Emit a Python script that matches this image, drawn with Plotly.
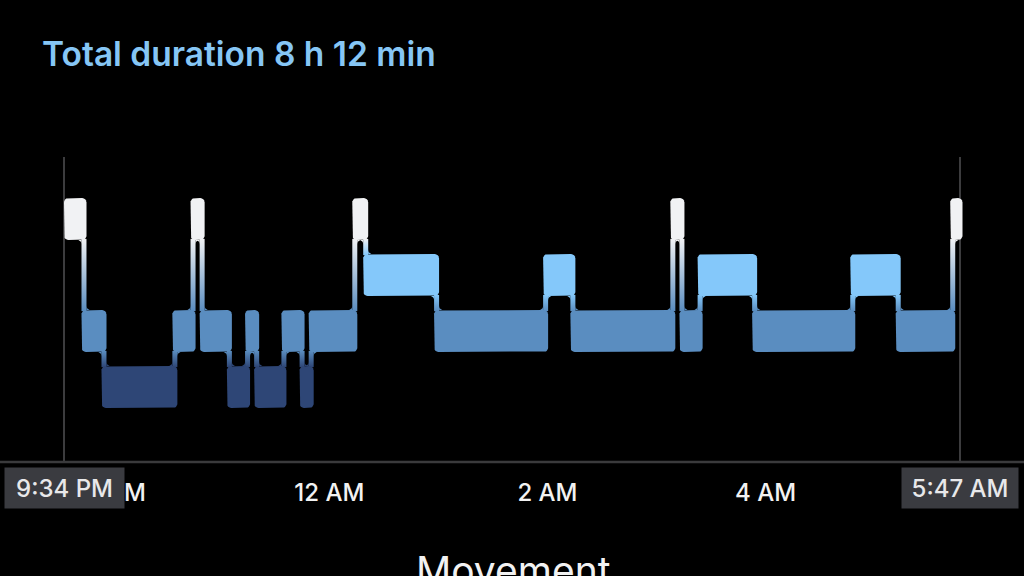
import math
import plotly.graph_objects as go

# ---------------- data ----------------
title_text = "Total duration 8 h 12 min"
footer_text = "Movement"
start_label = "9:34 PM"
end_label = "5:47 AM"
session_start = "21:34"
session_end = "05:47"

seg_starts = ["21:34", "21:45", "21:56", "22:35", "22:45", "22:50", "23:05", "23:15",
              "23:20", "23:35", "23:45", "23:50", "00:14", "00:20", "00:59", "01:59",
              "02:14", "03:09", "03:14", "03:24", "03:54", "04:48", "05:13", "05:43"]
seg_stages = ["Awake", "Core", "Deep", "Core", "Awake", "Core", "Deep", "Core",
              "Deep", "Core", "Deep", "Core", "Awake", "REM", "Core", "REM",
              "Core", "Awake", "Core", "REM", "Core", "REM", "Core", "Awake"]

tick_times = ["22:00", "00:00", "02:00", "04:00"]
tick_labels = ["10 PM", "12 AM", "2 AM", "4 AM"]

stage_levels = {"Deep": 0, "Core": 1, "REM": 2, "Awake": 3}
stage_colors = {"Awake": "#F1F2F4", "REM": "#84C8FA", "Core": "#5A8DC0", "Deep": "#2E4676"}

# ---------------- layout constants ----------------
W, H = 1024, 576
TOP, BOTTOM = 157, 462
PLOT_H = BOTTOM - TOP
SIDE = 64          # px from figure edge to session start/end lines
PX_PER_UNIT = 56   # px between stage rows
BAND_PX = 42
RADIUS_PX = 4.5
CONN_PX = 5
FILLET_PX = 4


def to_min(s):
    h, m = map(int, s.split(":"))
    h0, m0 = map(int, session_start.split(":"))
    v = h * 60 + m
    if v < 12 * 60:
        v += 1440
    return v - (h0 * 60 + m0)


T = to_min(session_end)
ppm = (W - 2 * SIDE) / T
x_range = [-SIDE / ppm, T + SIDE / ppm]
deep_px = 387
y_min = -(BOTTOM - deep_px) / PX_PER_UNIT
y_range = [y_min, y_min + PLOT_H / PX_PER_UNIT]
half = BAND_PX / 2 / PX_PER_UNIT
cw = CONN_PX / 2 / ppm
fx, fy = FILLET_PX / ppm, FILLET_PX / PX_PER_UNIT


def rounded_rect(x0, x1, y0, y1, r_px):
    rx, ry = r_px / ppm, r_px / PX_PER_UNIT
    rx = min(rx, (x1 - x0) / 2)
    xs, ys = [], []
    corners = [(x1 - rx, y1 - ry, 0, 90), (x0 + rx, y1 - ry, 90, 180),
               (x0 + rx, y0 + ry, 180, 270), (x1 - rx, y0 + ry, 270, 360)]
    for cx, cy, a0, a1 in corners:
        for k in range(7):
            a = math.radians(a0 + (a1 - a0) * k / 6)
            xs.append(cx + rx * math.cos(a))
            ys.append(cy + ry * math.sin(a))
    xs.append(xs[0]); ys.append(ys[0])
    return xs, ys


def fillet(xc, yc, sx, sy):
    """concave fillet in the corner (xc, yc); sx, sy = direction into free space"""
    xs, ys = [xc], [yc]
    cx, cy = xc + sx * fx, yc + sy * fy
    for k in range(8):
        a = math.radians(90 * k / 7)
        xs.append(cx - sx * fx * math.cos(a))
        ys.append(cy - sy * fy * math.sin(a))
    xs.append(xc); ys.append(yc)
    return xs, ys


starts = [to_min(s) for s in seg_starts]
ends = starts[1:] + [T]

fig = go.Figure()

# connectors (with fillets where they meet the bands)
for i in range(1, len(seg_stages)):
    a, b = seg_stages[i - 1], seg_stages[i]
    la, lb = stage_levels[a], stage_levels[b]
    lo, hi = (a, b) if la < lb else (b, a)
    t = starts[i]
    y0 = stage_levels[lo] + half - 0.02
    y1 = stage_levels[hi] - half + 0.02
    fig.add_trace(go.Scatter(
        x=[t - cw, t + cw, t + cw, t - cw, t - cw],
        y=[y0, y0, y1, y1, y0],
        mode="lines", line=dict(width=0), fill="toself",
        fillgradient=dict(type="vertical",
                          colorscale=[[0, stage_colors[lo]], [1, stage_colors[hi]]]),
        hoverinfo="skip", showlegend=False))
    if lb < la:
        xs, ys = fillet(t + cw, lb + half, 1, 1)
    else:
        xs, ys = fillet(t + cw, lb - half, 1, -1)
    fig.add_trace(go.Scatter(
        x=xs, y=ys, mode="lines", line=dict(width=0), fill="toself",
        fillcolor=stage_colors[b], hoverinfo="skip", showlegend=False))
    if la < lb:
        xs, ys = fillet(t - cw, la + half, -1, 1)
    else:
        xs, ys = fillet(t - cw, la - half, -1, -1)
    fig.add_trace(go.Scatter(
        x=xs, y=ys, mode="lines", line=dict(width=0), fill="toself",
        fillcolor=stage_colors[a], hoverinfo="skip", showlegend=False))

# blocks
for i, st in enumerate(seg_stages):
    lvl = stage_levels[st]
    x0 = starts[i] - (cw if i > 0 else 0)
    x1 = ends[i] + cw
    xs, ys = rounded_rect(x0, x1, lvl - half, lvl + half, RADIUS_PX)
    fig.add_trace(go.Scatter(
        x=xs, y=ys, mode="lines", line=dict(width=0), fill="toself",
        fillcolor=stage_colors[st], hoverinfo="skip", showlegend=False))

# session lines and baseline
for t in (0, T):
    fig.add_shape(type="line", xref="x", yref="paper", x0=t, x1=t, y0=0, y1=1,
                  line=dict(color="#3C3C3E", width=2), layer="below")
fig.add_shape(type="line", xref="paper", yref="paper", x0=0, x1=1, y0=0, y1=0,
              line=dict(color="#3A3A3C", width=2.5), layer="below")

# start / end labels
for t, txt, wbox in ((0, start_label, 119), (T, end_label, 116)):
    fig.add_annotation(x=t, xref="x", y=0, yref="paper", yanchor="top", yshift=-5,
                       text=txt, showarrow=False, width=wbox, height=40,
                       bgcolor="#3A3B40", borderpad=0,
                       font=dict(family="Inter", size=24, color="#E8E8EA", weight=500))

# title
fig.add_annotation(x=40 / W, xref="paper", xanchor="left",
                   y=(BOTTOM - 54) / PLOT_H, yref="paper", yanchor="middle",
                   text=title_text, showarrow=False,
                   font=dict(family="Inter", size=33.5, color="#86C6F5", weight=600))

# footer
fig.add_annotation(x=513 / W, xref="paper", xanchor="center",
                   y=-(545 - BOTTOM) / PLOT_H, yref="paper", yanchor="top",
                   text=footer_text, showarrow=False,
                   font=dict(family="Inter", size=39, color="#F2F2F2"))

fig.update_layout(
    width=W, height=H,
    margin=dict(l=0, r=0, t=TOP, b=H - BOTTOM, pad=0),
    paper_bgcolor="black", plot_bgcolor="black",
    showlegend=False,
    xaxis=dict(range=x_range, showgrid=False, zeroline=False, showline=False,
               tickmode="array", tickvals=[to_min(s) for s in tick_times],
               ticktext=tick_labels, ticks="", ticklabelstandoff=14,
               tickfont=dict(family="Inter", size=24, color="#F2F2F2", weight=500),
               fixedrange=True),
    yaxis=dict(range=y_range, showgrid=False, zeroline=False, showline=False,
               showticklabels=False, fixedrange=True),
)

fig.write_html("out.html", config={"displayModeBar": False},
               post_script="document.body.style.margin='0';document.body.style.background='black';")
